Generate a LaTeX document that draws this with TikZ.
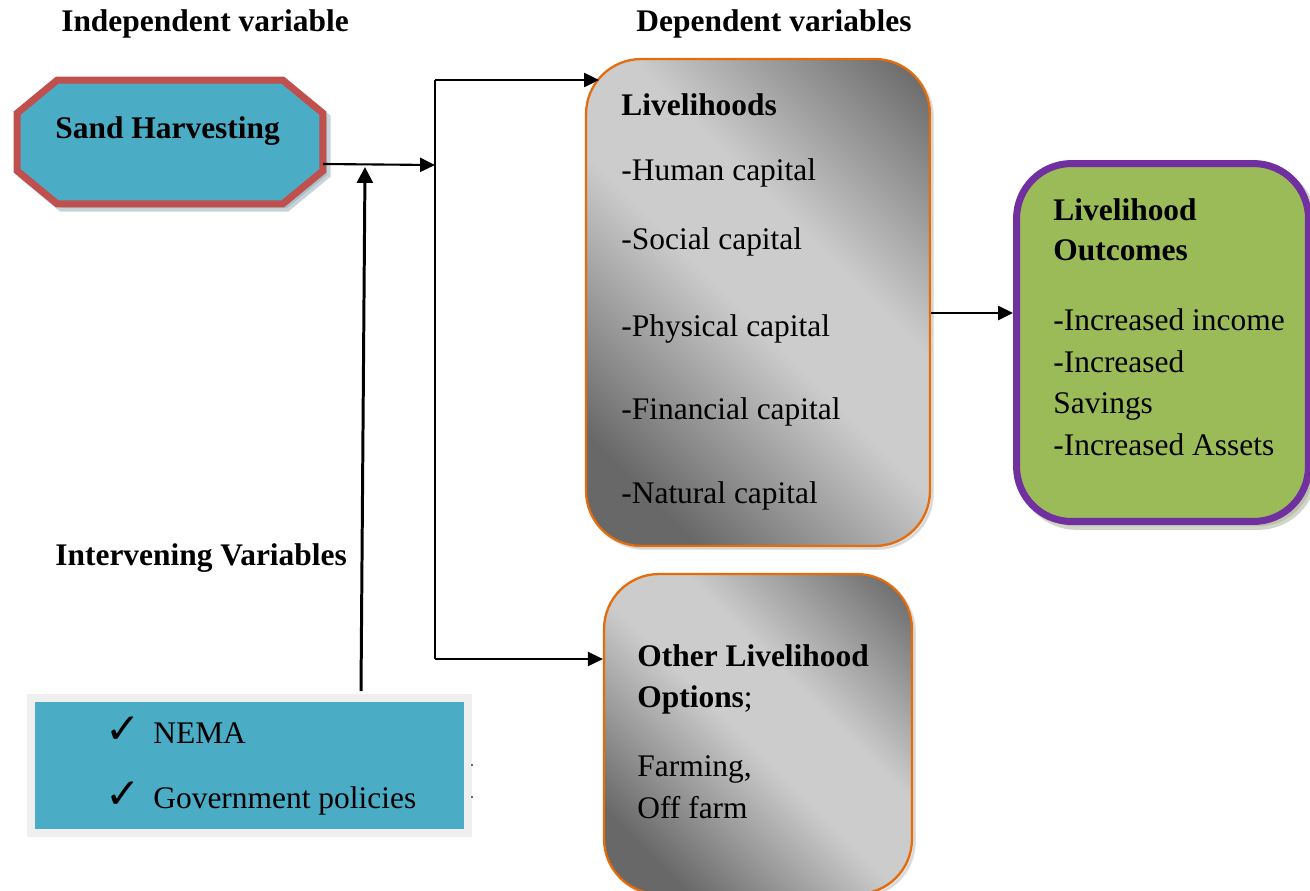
\documentclass[tikz,border=0pt]{standalone}
\usepackage{fontspec}
\setmainfont{Liberation Serif}
\newfontfamily\symfont{DejaVu Sans}
\usetikzlibrary{shadows,arrows.meta}
\definecolor{teal1}{HTML}{4BACC6}
\definecolor{redb}{HTML}{C0504D}
\definecolor{orangeb}{HTML}{E46C0A}
\definecolor{purpleb}{HTML}{7030A0}
\definecolor{oliveg}{HTML}{9BBB59}
\definecolor{gdark}{HTML}{686868}
\definecolor{glight}{HTML}{CCCCCC}
\definecolor{boxgrey}{HTML}{EFEFEF}
\definecolor{octshadow}{HTML}{8EA9B3}
\definecolor{outshadow}{HTML}{A6AE94}
\pgfdeclarehorizontalshading{greyband}{100bp}{color(0bp)=(gdark); color(24bp)=(gdark); color(48bp)=(glight); color(60bp)=(glight); color(84bp)=(gdark); color(100bp)=(gdark)}
\begin{document}
\begin{tikzpicture}[x=0.02cm,y=-0.02cm,
  every node/.style={font=\fontsize{17.9}{22}\selectfont},
  txt/.style={anchor=base west, inner sep=0pt},
  ttl/.style={anchor=base, inner sep=0pt, font=\fontsize{17.9}{22}\selectfont\bfseries},
  chk/.style={anchor=base west, inner sep=0pt, font=\symfont\fontsize{24}{28}\selectfont},
  arr/.style={line width=1.2pt, -{Triangle[length=8.5pt,width=8pt]}},
  arrthick/.style={line width=1.7pt, -{Triangle[length=9pt,width=9pt]}},
  link/.style={line width=1.2pt},
  grad/.style={rounded corners=1.1cm, draw=orangeb, line width=1.3pt, shading=greyband, shading angle=45,
    drop shadow={shadow xshift=1.6pt, shadow yshift=-1.6pt, fill=black!22, draw=black!22, line width=1.3pt}},
]
\useasboundingbox (0,0) rectangle (1310,890);
\clip (0,0) rectangle (1310,890);

% headings
\node[ttl] (hind) at (205,31) {Independent variable};
\node[ttl] (hdep) at (774,31) {Dependent variables};
\node[ttl, anchor=base west] (hint) at (55,565) {Intervening Variables};

% sand harvesting octagon
\node[minimum width=6.1cm, minimum height=2.46cm, inner sep=0pt] (sh) at (170,142) {};
\draw[fill=teal1, draw=redb, line width=0.14cm, line join=miter,
  drop shadow={shadow xshift=2.4pt, shadow yshift=-2.4pt, fill=octshadow, draw=octshadow, line width=0.14cm}]
  ([xshift=0.8cm]sh.north west) -- ([xshift=-0.8cm]sh.north east) -- ([yshift=-0.66cm]sh.north east)
  -- ([yshift=0.66cm]sh.south east) -- ([xshift=-0.8cm]sh.south east) -- ([xshift=0.8cm]sh.south west)
  -- ([yshift=0.66cm]sh.south west) -- ([yshift=-0.66cm]sh.north west) -- cycle;
\node[txt, font=\fontsize{17.9}{22}\selectfont\bfseries] (shtxt) at (55,138) {Sand Harvesting};

% livelihoods box
\node[grad, minimum width=6.88cm, minimum height=9.74cm, inner sep=0pt] (liv) at (758,302.5) {};
\node[txt, font=\fontsize{17.9}{22}\selectfont\bfseries] (l0) at (621,115) {Livelihoods};
\node[txt] (l1) at (621,180) {-Human capital};
\node[txt] (l2) at (621,249) {-Social capital};
\node[txt] (l3) at (621,336) {-Physical capital};
\node[txt] (l4) at (621,419) {-Financial capital};
\node[txt] (l5) at (621,503) {-Natural capital};

% other livelihood options
\node[grad, minimum width=6.16cm, minimum height=6.4cm, inner sep=0pt] (oth) at (758,734) {};
\node[txt, font=\fontsize{17.9}{22}\selectfont\bfseries] (o1) at (637,666) {Other Livelihood};
\node[txt] (o2) at (637,707) {\textbf{Options};};
\node[txt] (o3) at (637,776) {Farming,};
\node[txt] (o4) at (637,818) {Off farm};

% outcomes box
\node[rounded corners=1.1cm, fill=oliveg, draw=purpleb, line width=0.14cm,
  minimum width=5.84cm, minimum height=7.16cm, inner sep=0pt,
  drop shadow={shadow xshift=2.8pt, shadow yshift=-2.8pt, fill=outshadow, draw=outshadow, line width=0.14cm}]
  (out) at (1162.5,342.5) {};
\node[txt, font=\fontsize{17.9}{22}\selectfont\bfseries] (u1) at (1053,220) {Livelihood};
\node[txt, font=\fontsize{17.9}{22}\selectfont\bfseries] (u2) at (1053,260) {Outcomes};
\node[txt] (u3) at (1053,330) {-Increased income};
\node[txt] (u4) at (1053,372) {-Increased};
\node[txt] (u5) at (1053,413) {Savings};
\node[txt] (u6) at (1053,455) {-Increased Assets};

% intervening box
\node[fill=boxgrey, minimum width=8.9cm, minimum height=2.86cm, inner sep=0pt] (ivo) at (249.5,765.5) {};
\node[fill=teal1, minimum width=8.58cm, minimum height=2.54cm, inner sep=0pt] (ivb) at (249.5,765.5) {};
\node[chk] (c1) at (105,743) {✓};
\node[txt] (n1) at (153,743) {NEMA};
\node[chk] (c2) at (105,808) {✓};
\node[txt] (n2) at (153,808) {Government policies};
\fill[teal1!40!black] (472,765) circle (1.1);
\fill[teal1!40!black] (472,797) circle (1.1);

% connectors
\coordinate (shout) at (323,164);
\coordinate (jmid) at (435,165);
\coordinate (jtop) at (435,80);
\coordinate (jbot) at (435,659);
\coordinate (tipA) at (599,80);
\coordinate (vbot) at (361,691);
\coordinate (vtop) at (365,167);
\coordinate (m) at (0,313);

\draw[arr] (shout) -- (jmid);
\draw[link] (jtop) -- (jbot);
\draw[arr] (jtop) -- (tipA);
\draw[arr] (jbot) -- (oth.west |- jbot);
\draw[arrthick] (vbot) -- (vtop);
\draw[arr] (liv.east |- m) -- (out.west |- m);
\end{tikzpicture}
\end{document}
